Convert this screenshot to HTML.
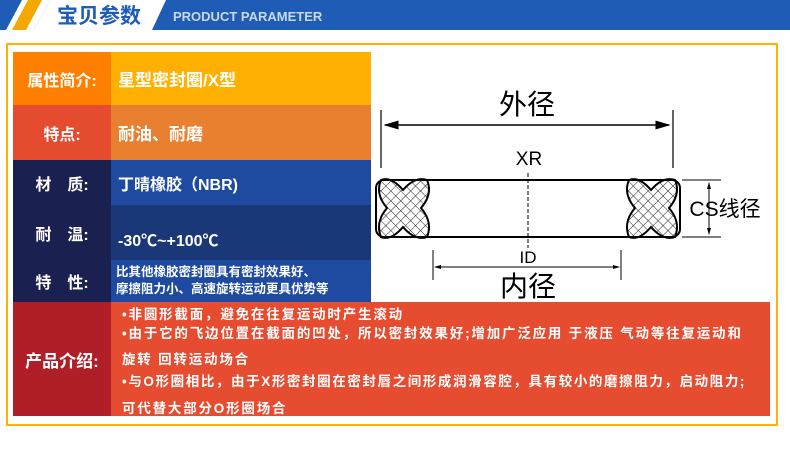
<!DOCTYPE html>
<html><head><meta charset="utf-8"><style>
body{margin:0;width:790px;height:469px;background:#fff;position:relative;overflow:hidden;font-family:"Liberation Sans","Noto Sans CJK SC",sans-serif;}
.a{position:absolute;}
.lab{position:absolute;left:13px;width:98px;color:#fff;font-weight:bold;font-size:16px;display:flex;align-items:center;justify-content:center;}
.val{position:absolute;left:111px;width:260px;color:#fff;font-weight:bold;font-size:15px;display:flex;align-items:center;padding-left:7px;box-sizing:border-box;}
</style></head><body>
<svg class="a" style="left:0;top:0" width="790" height="32">
<rect x="0" y="0" width="790" height="30" fill="#1E5CB5"/>
<polygon points="22,0 50,0 34,30 6,30" fill="#fff"/>
<polygon points="28,0 42,0 26,30 12,30" fill="#F5A800"/>
<polygon points="50,0 166,0 152,30 34,30" fill="#fff"/>
<text x="57" y="23" font-size="21" font-weight="bold" fill="#1E5CB5" font-family="Liberation Sans,Noto Sans CJK SC,sans-serif">宝贝参数</text>
<text x="173" y="21" font-size="13" font-weight="bold" fill="#c9d8f0" font-family="Liberation Sans,sans-serif">PRODUCT PARAMETER</text>
</svg>
<div class="a" style="left:6px;top:43px;width:768px;height:379px;border:2px solid #FFB300;"></div>

<div class="lab" style="top:52px;height:53px;background:#FF8000">属性简介:</div>
<div class="val" style="top:52px;height:53px;background:#FFB000;font-size:17px">星型密封圈/X型</div>
<div class="lab" style="top:105px;height:55px;background:#E54B2E">特点:</div>
<div class="val" style="top:105px;height:55px;background:#E8802F;font-size:17px">耐油、耐磨</div>
<div class="lab" style="top:160px;height:142px;background:#1A2150"></div>
<div class="lab" style="top:160px;height:45px;">材　质:</div>
<div class="lab" style="top:205px;height:55px;">耐　温:</div>
<div class="lab" style="top:260px;height:42px;">特　性:</div>
<div class="val" style="top:160px;height:45px;background:#1E4AA0;font-size:16px">丁晴橡胶（NBR)</div>
<div class="val" style="top:205px;height:55px;background:#1A3778;padding-top:12px;font-size:16px">-30℃~+100℃</div>
<div class="val" style="top:260px;height:42px;background:#1E4AA0;font-size:12.5px;line-height:17px;padding-left:5px">比其他橡胶密封圈具有密封效果好、<br>摩擦阻力小、高速旋转运动更具优势等</div>
<div class="lab" style="top:302px;height:114px;background:#B01E28;font-size:17px">产品介绍:</div>
<div class="a" style="left:111px;top:302px;width:659px;height:114px;background:#E54C30;color:#fff;font-weight:bold;font-size:13.5px;letter-spacing:1.8px;box-sizing:border-box;">
<div class="a" style="left:11px;top:1px;white-space:nowrap">•非圆形截面，避免在往复运动时产生滚动</div>
<div class="a" style="left:11px;top:20px;white-space:nowrap">•由于它的飞边位置在截面的凹处，所以密封效果好;增加广泛应用 于液压 气动等往复运动和</div>
<div class="a" style="left:11px;top:46px;white-space:nowrap">旋转 回转运动场合</div>
<div class="a" style="left:11px;top:68px;white-space:nowrap;letter-spacing:1.6px">•与O形圈相比，由于X形密封圈在密封唇之间形成润滑容腔，具有较小的磨擦阻力，启动阻力;</div>
<div class="a" style="left:11px;top:95px;white-space:nowrap">可代替大部分O形圈场合</div>
</div>

<svg class="a" style="left:371px;top:52px" width="402" height="250">
<defs>
<pattern id="h" width="7" height="7" patternUnits="userSpaceOnUse" patternTransform="rotate(45)">
<path d="M0 0H7M0 0V7" stroke="#222" stroke-width="1"/></pattern>
<marker id="m" markerWidth="10" markerHeight="8" refX="9" refY="4" orient="auto-start-reverse"><path d="M0,1 L10,4 L0,7z" fill="#000"/></marker>
<marker id="s" markerWidth="7" markerHeight="6" refX="6" refY="3" orient="auto-start-reverse"><path d="M0,1 L7,3 L0,5z" fill="#000"/></marker>
</defs>
<g stroke="#000" fill="none">
<line x1="10" y1="58" x2="10" y2="116" stroke-width="1.2"/>
<line x1="302" y1="58" x2="302" y2="116" stroke-width="1.2"/>
<line x1="14" y1="73" x2="298" y2="73" stroke-width="1.5" marker-start="url(#m)" marker-end="url(#m)"/>
<rect x="5" y="128" width="304" height="57" rx="8" stroke-width="2"/>
<line x1="157" y1="121" x2="157" y2="196" stroke-dasharray="4,2"/>
<line x1="62" y1="198" x2="62" y2="228"/>
<line x1="250" y1="198" x2="250" y2="228"/>
<line x1="64" y1="215" x2="248" y2="215" marker-start="url(#s)" marker-end="url(#s)"/>
<line x1="311" y1="128" x2="350" y2="128"/>
<line x1="311" y1="185" x2="350" y2="185"/>
<line x1="338" y1="131" x2="338" y2="182" marker-start="url(#s)" marker-end="url(#s)"/>
</g>
<g stroke="#000" stroke-width="2" fill="url(#h)">
<path d="M10,128 Q20,124 32,138 Q44,124 56,128 Q62,142 50,156 Q62,170 56,185 Q44,189 32,175 Q20,189 10,185 Q4,170 16,156 Q4,142 10,128Z"/>
<path d="M258,128 Q268,124 280,138 Q292,124 304,128 Q310,142 298,156 Q310,170 304,185 Q292,189 280,175 Q268,189 258,185 Q252,170 264,156 Q252,142 258,128Z"/>
</g>
<g font-family="Liberation Sans,Noto Sans CJK SC,sans-serif" fill="#000" text-anchor="middle">
<text x="156" y="62" font-size="28">外径</text>
<text x="158" y="113" font-size="19">XR</text>
<text x="157" y="211" font-size="17">ID</text>
<text x="157" y="244" font-size="28">内径</text>
<text x="354" y="164" font-size="21">CS线径</text>
</g>
</svg>
</body></html>
